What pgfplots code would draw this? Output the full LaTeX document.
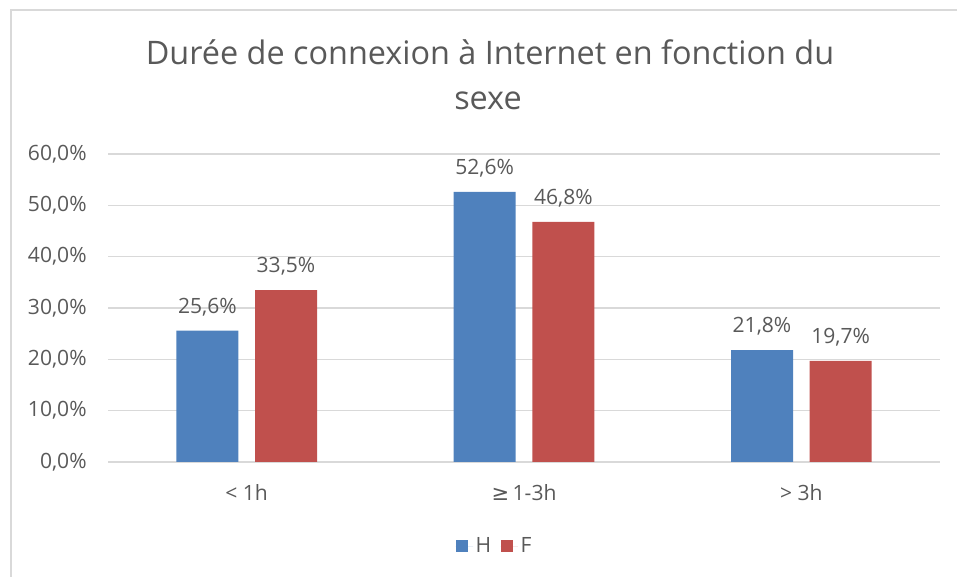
\documentclass[border=0pt]{standalone}
\usepackage{pgfplots}
\pgfplotsset{compat=1.18}
\usepackage{fontspec}
\setmainfont{Open Sans}
\newfontfamily\dejavu{DejaVu Sans}
\definecolor{txt}{HTML}{595959}
\definecolor{gridc}{HTML}{D9D9D9}
\definecolor{frame}{HTML}{D9D9D9}
\definecolor{cH}{HTML}{4F81BD}
\definecolor{cF}{HTML}{C0504D}
\begin{document}
\begin{tikzpicture}[x=0.75pt,y=0.75pt]
\useasboundingbox (0,0) rectangle (957,577);
\draw[frame, line width=1.5pt] (10.5,0) -- (10.5,566.5) -- (957,566.5);
\node[anchor=base, text=txt, font=\fontsize{24.3}{28}\selectfont, inner sep=0pt] at (490,512) {Durée de connexion à Internet en fonction du};
\node[anchor=base, text=txt, font=\fontsize{24.3}{28}\selectfont, inner sep=0pt] at (488,467.7) {sexe};
\begin{axis}[
  at={(81pt,86.25pt)}, anchor=south west,
  scale only axis, width=624pt, height=231pt,
  xmin=-0.5, xmax=2.5, ymin=0, ymax=60,
  ybar, bar width=46.5pt,
  xtick={0,1,2},
  xticklabels={{< 1h},{{\dejavu ≥}\,1-3h},{> 3h}},
  ytick={0,10,20,30,40,50,60},
  yticklabels={{0,0\%},{10,0\%},{20,0\%},{30,0\%},{40,0\%},{50,0\%},{60,0\%}},
  ymajorgrids, grid style={gridc, line width=1pt},
  axis line style={draw=none},
  major tick length=0pt,
  tick label style={text=txt, font=\fontsize{15.8}{19}\selectfont},
  yticklabel style={xshift=-12.5pt},
  xticklabel style={anchor=base, yshift=-29.25pt, inner sep=0pt},
  /pgf/number format/assume math mode=true,
  nodes near coords={\pgfmathprintnumber[fixed,fixed zerofill,precision=1,use comma]{\pgfplotspointmeta}\%},
  every node near coord/.append style={anchor=base, yshift=13pt, text=txt, font=\fontsize{15.8}{19}\selectfont, inner sep=0pt},
  legend columns=2,
  legend style={at={(0.465,-0.273)}, anchor=center, draw=none, fill=none,
    font=\fontsize{15.8}{19}\selectfont, text=txt,
    /tikz/every even column/.append style={column sep=5pt}},
  legend image code/.code={\path (0pt,0pt) -- (13pt,0pt);\fill[#1] (0pt,-4.5pt) rectangle (9pt,4.5pt);},
]
\addplot[fill=cH, draw=none, bar shift=-29.5pt] coordinates {(0,25.6) (1,52.6) (2,21.8)};
\addplot[fill=cF, draw=none, bar shift=29.5pt] coordinates {(0,33.5) (1,46.8) (2,19.7)};
\legend{H,F}
\end{axis}
\end{tikzpicture}
\end{document}
